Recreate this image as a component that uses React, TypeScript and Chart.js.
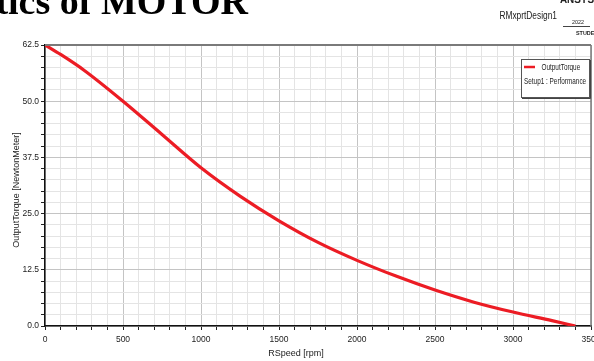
import React, { useEffect, useRef } from "react";
import { Chart, registerables } from "chart.js";

Chart.register(...registerables);

const speedRpm = [0, 100, 250, 500, 750, 1000, 1250, 1500, 1750, 2000, 2250, 2500, 2750, 3000, 3250, 3400];
const outputTorque = [62.5, 60.4, 56.9, 50.0, 42.6, 35.2, 28.9, 23.4, 18.6, 14.6, 11.1, 8.0, 5.3, 3.1, 1.2, 0.0];

const seriesName = "OutputTorque";
const setupName = "Setup1 : Performance";
const xTitle = "RSpeed [rpm]";
const yTitle = "OutputTorque [NewtonMeter]";
const pageTitle = "Characteristics of MOTOR";
const designName = "RMxprtDesign1";

const X_MAX = 3500;
const Y_MAX = 62.5;
const X_MAJOR = 500;
const Y_MAJOR = 12.5;

const RED = "rgb(236, 28, 36)";
const MAJOR_GRID = "#c4c4c4";
const MINOR_GRID = "#e4e4e4";

const isMult = (v: number, m: number) => Math.abs(v / m - Math.round(v / m)) < 1e-6;

function drawNarrow(ctx: CanvasRenderingContext2D, text: string, x: number, y: number, sx: number, align: CanvasTextAlign) {
  ctx.save();
  ctx.translate(x, y);
  ctx.scale(sx, 1);
  ctx.textAlign = align;
  ctx.fillText(text, 0, 0);
  ctx.restore();
}

const decorPlugin = {
  id: "decor",
  afterDraw(chart: any) {
    const ctx: CanvasRenderingContext2D = chart.ctx;
    const a = chart.chartArea;
    ctx.save();
    // top & right frame
    ctx.strokeStyle = "#7a7a7a";
    ctx.lineWidth = 2;
    ctx.beginPath();
    ctx.moveTo(a.left, a.top);
    ctx.lineTo(a.right, a.top);
    ctx.stroke();
    ctx.lineWidth = 1.5;
    ctx.beginPath();
    ctx.moveTo(a.right, a.top);
    ctx.lineTo(a.right, a.bottom);
    ctx.stroke();

    // page title (cut off at top)
    ctx.fillStyle = "#000";
    ctx.font = 'bold 38px "Liberation Serif"';
    ctx.textAlign = "right";
    ctx.textBaseline = "alphabetic";
    ctx.fillText(pageTitle, 248, 14);

    // top-right watermark texts
    ctx.fillStyle = "#222";
    ctx.font = '11px "Liberation Sans"';
    ctx.textBaseline = "middle";
    drawNarrow(ctx, designName, 557, 16, 0.76, "right");
    ctx.font = 'bold 11px "Liberation Sans"';
    ctx.textBaseline = "alphabetic";
    drawNarrow(ctx, "ANSYS", 594, 3, 0.9, "right");
    ctx.font = '6px "Liberation Sans"';
    drawNarrow(ctx, "2022", 584, 24, 0.9, "right");
    ctx.strokeStyle = "#444";
    ctx.lineWidth = 1;
    ctx.beginPath();
    ctx.moveTo(563, 26.5);
    ctx.lineTo(590, 26.5);
    ctx.stroke();
    ctx.font = 'bold 6px "Liberation Sans"';
    drawNarrow(ctx, "STUDENT", 576, 35, 0.9, "left");

    // legend box
    ctx.fillStyle = "#ffffff";
    ctx.fillRect(521.5, 59.5, 68, 38);
    ctx.strokeStyle = "#555";
    ctx.lineWidth = 1;
    ctx.strokeRect(521.5, 59.5, 68, 38);
    ctx.strokeStyle = "#444";
    ctx.beginPath();
    ctx.moveTo(522, 98.5);
    ctx.lineTo(590.5, 98.5);
    ctx.lineTo(590.5, 60);
    ctx.stroke();
    ctx.strokeStyle = RED;
    ctx.lineWidth = 2.5;
    ctx.beginPath();
    ctx.moveTo(524, 67);
    ctx.lineTo(535, 67);
    ctx.stroke();
    ctx.fillStyle = "#222";
    ctx.font = '9px "Liberation Sans"';
    ctx.textBaseline = "middle";
    drawNarrow(ctx, seriesName, 541.5, 67.5, 0.71, "left");
    drawNarrow(ctx, setupName, 524, 81.5, 0.71, "left");

    // axis titles
    ctx.font = '9px "Liberation Sans"';
    ctx.fillStyle = "#222";
    ctx.textBaseline = "middle";
    ctx.textAlign = "center";
    ctx.fillText(xTitle, 296, 354);
    ctx.save();
    ctx.translate(17, 190);
    ctx.rotate(-Math.PI / 2);
    ctx.fillText(yTitle, 0, 0);
    ctx.restore();
    ctx.restore();
  },
};

export default function App() {
  const canvasRef = useRef<HTMLCanvasElement | null>(null);

  useEffect(() => {
    document.body.style.margin = "0";
    const canvas = canvasRef.current;
    if (!canvas) return;
    const chart = new Chart(canvas, {
      type: "line",
      data: {
        datasets: [
          {
            label: seriesName,
            data: speedRpm.map((s, i) => ({ x: s, y: outputTorque[i] })),
            borderColor: RED,
            backgroundColor: RED,
            borderWidth: 3.2,
            pointRadius: 0,
            cubicInterpolationMode: "monotone",
            fill: false,
          },
        ],
      },
      options: {
        animation: false,
        responsive: false,
        maintainAspectRatio: false,
        layout: { padding: { left: 0, top: 45, right: 3, bottom: 0 } },
        plugins: {
          legend: { display: false },
          tooltip: { enabled: false },
          title: { display: false },
        },
        scales: {
          x: {
            type: "linear",
            min: 0,
            max: X_MAX,
            grid: {
              color: (c: any) => (c.tick && isMult(c.tick.value, X_MAJOR) ? MAJOR_GRID : MINOR_GRID),
              tickColor: "#222",
              tickLength: 4,
              lineWidth: 1,
            },
            border: { display: true, color: "#111", width: 1.5 },
            ticks: {
              stepSize: 100,
              autoSkip: false,
              maxRotation: 0,
              minRotation: 0,
              padding: 5,
              color: "#222",
              font: { family: "Liberation Sans", size: 8.5 },
              callback: (v: any) => (isMult(Number(v), X_MAJOR) ? String(v) : ""),
            },
            afterFit: (s: any) => {
              s.height = 35;
              s.paddingLeft = 0;
              s.paddingRight = 0;
            },
          },
          y: {
            type: "linear",
            min: 0,
            max: Y_MAX,
            grid: {
              color: (c: any) => (c.tick && isMult(c.tick.value, Y_MAJOR) ? MAJOR_GRID : MINOR_GRID),
              tickColor: "#222",
              tickLength: 4,
              lineWidth: 1,
            },
            border: { display: true, color: "#111", width: 1.5 },
            ticks: {
              stepSize: 2.5,
              autoSkip: false,
              padding: 2,
              color: "#222",
              font: { family: "Liberation Sans", size: 8.5 },
              callback: (v: any) => (isMult(Number(v), Y_MAJOR) ? Number(v).toFixed(1) : ""),
            },
            afterFit: (s: any) => {
              s.width = 45;
              s.paddingTop = 0;
              s.paddingBottom = 0;
            },
          },
        },
      },
      plugins: [decorPlugin],
    } as any);
    return () => chart.destroy();
  }, []);

  return (
    <div style={{ position: "absolute", left: 0, top: 0, width: 594, height: 361, background: "#fff" }}>
      <canvas ref={canvasRef} width={594} height={361} style={{ display: "block" }} />
    </div>
  );
}
